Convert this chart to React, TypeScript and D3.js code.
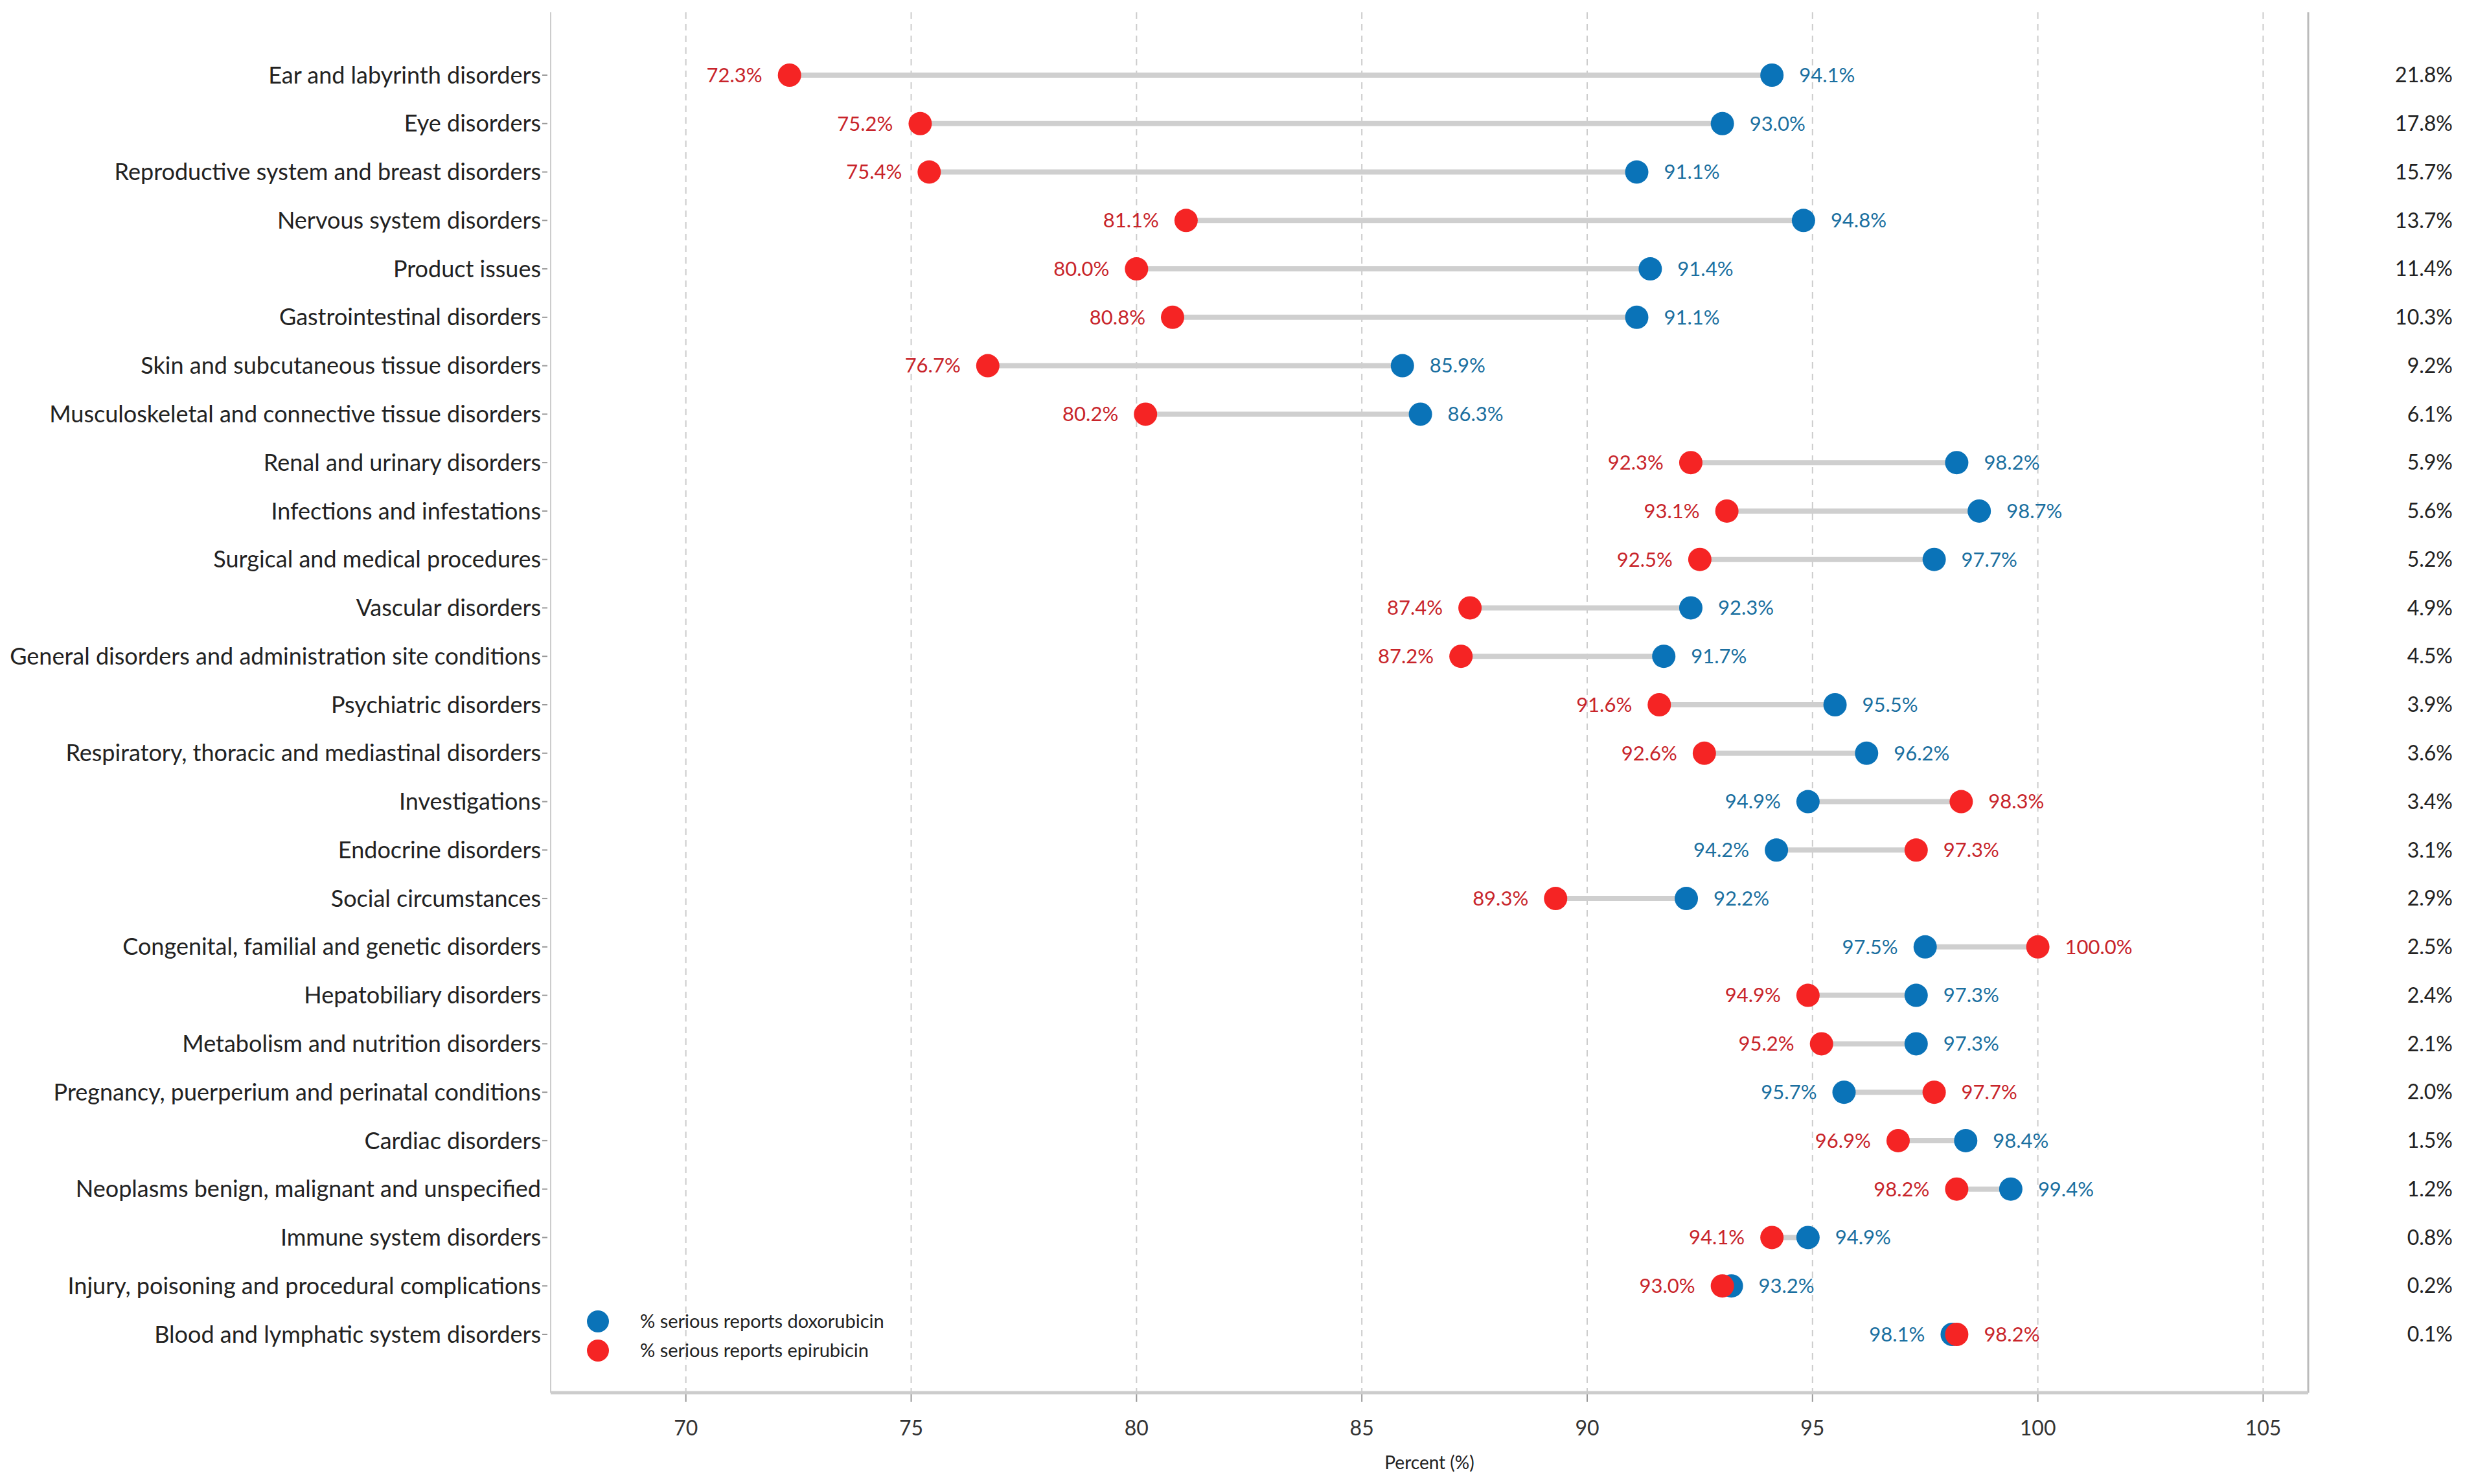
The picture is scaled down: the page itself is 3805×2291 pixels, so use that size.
import React from "react";
import * as d3 from "d3";

const categories = ["Ear and labyrinth disorders","Eye disorders","Reproductive system and breast disorders","Nervous system disorders","Product issues","Gastrointestinal disorders","Skin and subcutaneous tissue disorders","Musculoskeletal and connective tissue disorders","Renal and urinary disorders","Infections and infestations","Surgical and medical procedures","Vascular disorders","General disorders and administration site conditions","Psychiatric disorders","Respiratory, thoracic and mediastinal disorders","Investigations","Endocrine disorders","Social circumstances","Congenital, familial and genetic disorders","Hepatobiliary disorders","Metabolism and nutrition disorders","Pregnancy, puerperium and perinatal conditions","Cardiac disorders","Neoplasms benign, malignant and unspecified","Immune system disorders","Injury, poisoning and procedural complications","Blood and lymphatic system disorders"];
const doxo = [94.1,93.0,91.1,94.8,91.4,91.1,85.9,86.3,98.2,98.7,97.7,92.3,91.7,95.5,96.2,94.9,94.2,92.2,97.5,97.3,97.3,95.7,98.4,99.4,94.9,93.2,98.1];
const epi = [72.3,75.2,75.4,81.1,80.0,80.8,76.7,80.2,92.3,93.1,92.5,87.4,87.2,91.6,92.6,98.3,97.3,89.3,100.0,94.9,95.2,97.7,96.9,98.2,94.1,93.0,98.2];
const share = ["21.8%","17.8%","15.7%","13.7%","11.4%","10.3%","9.2%","6.1%","5.9%","5.6%","5.2%","4.9%","4.5%","3.9%","3.6%","3.4%","3.1%","2.9%","2.5%","2.4%","2.1%","2.0%","1.5%","1.2%","0.8%","0.2%","0.1%"];
const xTicks = [70,75,80,85,90,95,100,105];

const W = 3805, H = 2291;
const L = 850, R = 3563, T = 19, B = 2150;
const BLUE = "#0a73b8", RED = "#f52424", BLUE_T = "#1a6fa0", RED_T = "#c8242a";
const FONT = "Lato, 'Open Sans', sans-serif";

export default function App() {
  const x = d3.scaleLinear().domain([67, 106]).range([L, R]);
  const y = d3.scalePoint<string>().domain(categories).range([116, 2060]);
  return (
    <svg width={W} height={H} style={{ fontFamily: FONT, position: "absolute", left: 0, top: 0 }}>
      {xTicks.map(t => (
        <g key={t}>
          <line x1={x(t)} x2={x(t)} y1={T} y2={B} stroke="#ccc" strokeWidth={2} strokeDasharray="10,8" />
          <line x1={x(t)} x2={x(t)} y1={B} y2={B + 14} stroke="#999" strokeWidth={2} />
          <text x={x(t)} y={B + 66} textAnchor="middle" fontSize={32} fill="#333">{t}</text>
        </g>
      ))}
      <line x1={L} x2={L} y1={T} y2={B} stroke="#ccc" strokeWidth={2} />
      <line x1={R} x2={R} y1={T} y2={B} stroke="#bbb" strokeWidth={3} />
      <line x1={L} x2={R} y1={B} y2={B} stroke="#ccc" strokeWidth={5} />
      <text x={(L + R) / 2} y={2268} textAnchor="middle" fontSize={28} fill="#222">Percent (%)</text>
      {categories.map((c, i) => {
        const yy = y(c)!;
        const d = doxo[i], e = epi[i];
        const lo = Math.min(d, e), hi = Math.max(d, e);
        const dLeft = d <= e;
        return (
          <g key={c}>
            <text x={835} y={yy} dy="0.35em" textAnchor="end" fontSize={36} fill="#222">{c}</text>
            <line x1={837} x2={845} y1={yy} y2={yy} stroke="#999" strokeWidth={2} />
            <line x1={x(lo)} x2={x(hi)} y1={yy} y2={yy} stroke="#cfcfcf" strokeWidth={8} />
            <circle cx={x(d)} cy={yy} r={18} fill={BLUE} />
            <circle cx={x(e)} cy={yy} r={18} fill={RED} />
            <text x={x(d) + (dLeft ? -42 : 42)} y={yy} dy="0.35em" textAnchor={dLeft ? "end" : "start"} fontSize={31} fill={BLUE_T}>{d.toFixed(1)}%</text>
            <text x={x(e) + (dLeft ? 42 : -42)} y={yy} dy="0.35em" textAnchor={dLeft ? "start" : "end"} fontSize={31} fill={RED_T}>{e.toFixed(1)}%</text>
            <text x={3786} y={yy} dy="0.35em" textAnchor="end" fontSize={32} fill="#222">{share[i]}</text>
          </g>
        );
      })}
      <circle cx={923} cy={2040} r={17} fill={BLUE} />
      <text x={988} y={2040} dy="0.35em" fontSize={29} fill="#222">% serious reports doxorubicin</text>
      <circle cx={923} cy={2085} r={17} fill={RED} />
      <text x={988} y={2085} dy="0.35em" fontSize={29} fill="#222">% serious reports epirubicin</text>
    </svg>
  );
}
